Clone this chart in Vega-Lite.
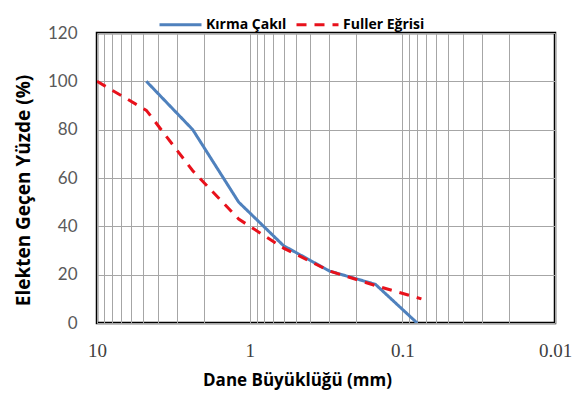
{
  "$schema": "https://vega.github.io/schema/vega-lite/v6.json",
  "width": 458,
  "height": 290,
  "autosize": "none",
  "padding": {"left": 97, "top": 33, "right": 17, "bottom": 89},
  "background": "white",
  "config": {
    "view": {"stroke": "#000000", "strokeWidth": 2.5},
    "axis": {"gridColor": "#a6a6a6", "gridWidth": 1, "gridOpacity": 1, "domain": false, "ticks": false}
  },
  "data": {
    "values": [
      {"series": "Kırma Çakıl", "d": 4.75, "p": 100},
      {"series": "Kırma Çakıl", "d": 2.36, "p": 80},
      {"series": "Kırma Çakıl", "d": 1.18, "p": 50},
      {"series": "Kırma Çakıl", "d": 0.6, "p": 32},
      {"series": "Kırma Çakıl", "d": 0.3, "p": 21.5},
      {"series": "Kırma Çakıl", "d": 0.15, "p": 16},
      {"series": "Kırma Çakıl", "d": 0.08, "p": 0},
      {"series": "Fuller Eğrisi", "d": 10, "p": 100},
      {"series": "Fuller Eğrisi", "d": 4.75, "p": 88},
      {"series": "Fuller Eğrisi", "d": 2.36, "p": 63},
      {"series": "Fuller Eğrisi", "d": 1.18, "p": 43},
      {"series": "Fuller Eğrisi", "d": 0.6, "p": 31},
      {"series": "Fuller Eğrisi", "d": 0.3, "p": 21.5},
      {"series": "Fuller Eğrisi", "d": 0.15, "p": 15.5},
      {"series": "Fuller Eğrisi", "d": 0.075, "p": 10}
    ]
  },
  "mark": {"type": "line", "strokeWidth": 3, "clip": true},
  "encoding": {
    "x": {
      "field": "d",
      "type": "quantitative",
      "scale": {"type": "log", "domain": [0.01, 10], "reverse": true, "nice": false},
      "axis": {
        "title": "Dane Büyüklüğü (mm)",
        "titleFont": "Open Sans",
        "titleFontSize": 17,
        "titleFontWeight": "bold",
        "titleColor": "#000000",
        "titlePadding": 12,
        "titleX": 200,
        "values": [10, 9, 8, 7, 6, 5, 4, 3, 2, 1, 0.9, 0.8, 0.7, 0.6, 0.5, 0.4, 0.3, 0.2, 0.1, 0.09, 0.08, 0.07, 0.06, 0.05, 0.04, 0.03, 0.02, 0.01],
        "labelExpr": "datum.value == 10 ? '10' : datum.value == 1 ? '1' : datum.value == 0.1 ? '0.1' : datum.value == 0.01 ? '0.01' : ''",
        "labelFont": "Liberation Serif",
        "labelFontSize": 19,
        "labelColor": "#404040",
        "labelPadding": 18,
        "labelOverlap": false,
        "labelFlush": false
      }
    },
    "y": {
      "field": "p",
      "type": "quantitative",
      "scale": {"domain": [0, 120], "nice": false},
      "axis": {
        "title": "Elekten Geçen Yüzde (%)",
        "titleFont": "Open Sans",
        "titleFontSize": 19,
        "titleFontWeight": "bold",
        "titleColor": "#000000",
        "titlePadding": 14,
        "titleY": 157,
        "values": [0, 20, 40, 60, 80, 100, 120],
        "labelFont": "Lato",
        "labelFontSize": 17,
        "labelColor": "#595959",
        "labelPadding": 20
      }
    },
    "color": {
      "field": "series",
      "type": "nominal",
      "scale": {"domain": ["Kırma Çakıl", "Fuller Eğrisi"], "range": ["#4f81bd", "#e8111b"]},
      "legend": {
        "title": null,
        "orient": "none",
        "direction": "horizontal",
        "legendX": 61,
        "legendY": -31,
        "symbolType": "stroke",
        "symbolSize": 1764,
        "symbolStrokeWidth": 3,
        "labelFont": "Open Sans",
        "labelFontSize": 14,
        "labelFontWeight": "bold",
        "labelColor": "#000000",
        "columnPadding": 3,
        "labelOffset": 3
      }
    },
    "strokeDash": {
      "field": "series",
      "type": "nominal",
      "scale": {"domain": ["Kırma Çakıl", "Fuller Eğrisi"], "range": [[1, 0], [10, 8]]},
      "legend": {
        "title": null,
        "orient": "none",
        "direction": "horizontal",
        "legendX": 61,
        "legendY": -31
      }
    }
  }
}
